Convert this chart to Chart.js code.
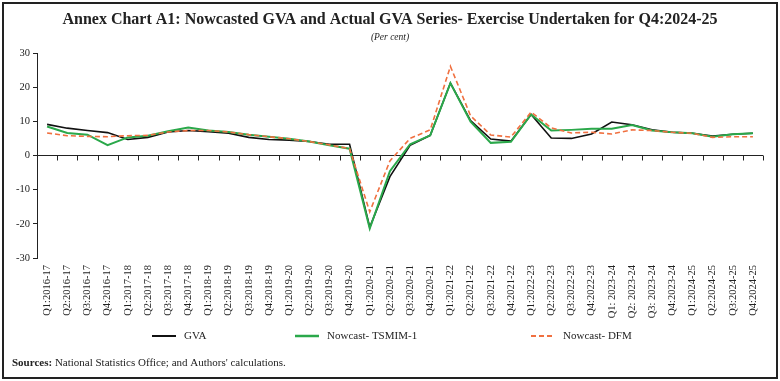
<!DOCTYPE html>
<html>
<head>
<meta charset="utf-8">
<script src="https://cdn.jsdelivr.net/npm/chart.js@4/dist/chart.umd.min.js"></script>
<style>
html,body{margin:0;padding:0;background:#fff;}
#wrap{position:relative;width:780px;height:381px;}
</style>
</head>
<body>
<div id="wrap"><canvas id="c" width="780" height="381"></canvas></div>
<script>
const categories = ["Q1:2016-17","Q2:2016-17","Q3:2016-17","Q4:2016-17","Q1:2017-18","Q2:2017-18","Q3:2017-18","Q4:2017-18","Q1:2018-19","Q2:2018-19","Q3:2018-19","Q4:2018-19","Q1:2019-20","Q2:2019-20","Q3:2019-20","Q4:2019-20","Q1:2020-21","Q2:2020-21","Q3:2020-21","Q4:2020-21","Q1:2021-22","Q2:2021-22","Q3:2021-22","Q4:2021-22","Q1:2022-23","Q2:2022-23","Q3:2022-23","Q4:2022-23","Q1: 2023-24","Q2: 2023-24","Q3: 2023-24","Q4:2023-24","Q1:2024-25","Q2:2024-25","Q3:2024-25","Q4:2024-25"];
const gva = [9.1,8.0,7.3,6.7,4.7,5.3,6.9,7.3,7.0,6.5,5.3,4.7,4.5,4.1,3.3,3.3,-21.0,-6.2,3.0,5.9,21.2,10.2,4.8,4.2,12.0,5.1,5.0,6.3,9.8,9.0,7.5,6.8,6.5,5.7,6.2,6.5];
const tsmim = [8.5,6.6,6.1,3.0,5.3,5.8,7.1,8.2,7.3,6.9,6.1,5.5,4.9,4.1,3.0,2.0,-21.4,-4.6,3.3,5.9,21.2,9.9,3.7,4.0,12.0,7.3,7.5,7.8,7.8,8.9,7.3,6.8,6.5,5.5,6.2,6.5];
const dfm = [6.6,5.8,5.6,5.5,5.8,5.9,6.9,7.3,7.3,6.9,6.1,5.5,4.9,4.1,3.1,2.0,-16.5,-1.6,5.0,7.5,26.1,11.6,6.0,5.4,12.7,8.1,6.6,6.8,6.3,7.5,7.3,6.8,6.5,5.3,5.5,5.5];
const yTicks = [-30,-20,-10,0,10,20,30];
const seriesNames = ["GVA","Nowcast- TSMIM-1","Nowcast- DFM"];
const titleText = "Annex Chart A1: Nowcasted GVA and Actual GVA Series- Exercise Undertaken for Q4:2024-25";
const subtitleText = "(Per cent)";

const SERIF = "'Liberation Serif','DejaVu Serif',serif";
const colBlack = "#111111", colGreen = "#2aa84a", colOrange = "#f07040";

const decor = {
  id: 'decor',
  beforeDraw(chart){
    const ctx = chart.ctx;
    ctx.save();
    ctx.fillStyle = '#fff';
    ctx.fillRect(0,0,chart.width,chart.height);
    ctx.strokeStyle = '#222';
    ctx.lineWidth = 2;
    ctx.strokeRect(3,3,chart.width-6,chart.height-6);
    // title
    ctx.fillStyle = '#222';
    ctx.textAlign = 'center';
    ctx.textBaseline = 'middle';
    ctx.font = "bold 16px " + SERIF;
    ctx.fillText(titleText, 390, 20);
    ctx.font = "italic 9.5px " + SERIF;
    ctx.fillText(subtitleText, 390, 37);
    // legend
    const items = [
      {x:152, color:colBlack, dash:[], w:2},
      {x:295, color:colGreen, dash:[], w:2.5},
      {x:531, color:colOrange, dash:[5,3], w:2}
    ];
    ctx.font = "11px " + SERIF;
    ctx.textAlign = 'left';
    items.forEach((it,i)=>{
      ctx.beginPath();
      ctx.strokeStyle = it.color;
      ctx.lineWidth = it.w;
      ctx.setLineDash(it.dash);
      ctx.moveTo(it.x,336); ctx.lineTo(it.x+24,336);
      ctx.stroke();
      ctx.setLineDash([]);
      ctx.fillStyle = '#222';
      ctx.fillText(seriesNames[i], it.x+32, 336);
    });
    // sources
    ctx.font = "bold 11px " + SERIF;
    ctx.fillText("Sources:", 12, 363);
    const w = ctx.measureText("Sources: ").width;
    ctx.font = "11px " + SERIF;
    ctx.fillText("National Statistics Office; and Authors' calculations.", 12 + w, 363);
    ctx.restore();
  },
  beforeDatasetsDraw(chart){
    const ctx = chart.ctx, xs = chart.scales.x, ys = chart.scales.y;
    const y0 = ys.getPixelForValue(0);
    ctx.save();
    ctx.strokeStyle = '#222';
    ctx.lineWidth = 1;
    ctx.beginPath();
    ctx.moveTo(chart.chartArea.left, y0);
    ctx.lineTo(chart.chartArea.right, y0);
    const n = categories.length;
    const step = xs.getPixelForValue(1) - xs.getPixelForValue(0);
    for(let i=0;i<n;i++){
      const bx = Math.round(xs.getPixelForValue(i) + step/2) + 0.5;
      ctx.moveTo(bx, y0);
      ctx.lineTo(bx, y0+5);
    }
    ctx.stroke();
    ctx.restore();
  }
};

new Chart(document.getElementById('c'), {
  type: 'line',
  data: {
    labels: categories,
    datasets: [
      {label: seriesNames[0], data: gva, borderColor: colBlack, borderWidth: 1.6, pointRadius: 0, tension: 0, order: 3},
      {label: seriesNames[1], data: tsmim, borderColor: colGreen, borderWidth: 2, pointRadius: 0, tension: 0, order: 2},
      {label: seriesNames[2], data: dfm, borderColor: colOrange, borderWidth: 1.6, borderDash: [5,3], pointRadius: 0, tension: 0, order: 1}
    ]
  },
  options: {
    responsive: false,
    animation: false,
    events: [],
    layout: {padding: {top: 53, right: 17, left: 0, bottom: 0}},
    plugins: {legend: {display: false}, title: {display: false}, tooltip: {enabled: false}},
    scales: {
      x: {
        offset: true,
        grid: {display: false, drawTicks: false},
        border: {display: false},
        ticks: {
          autoSkip: false, minRotation: 90, maxRotation: 90, padding: 7,
          color: '#222', font: {family: SERIF, size: 10.5}
        },
        afterFit(s){ s.height = 123; }
      },
      y: {
        min: -30, max: 30,
        afterBuildTicks(s){ s.ticks = yTicks.map(v=>({value:v})); },
        grid: {display: true, drawOnChartArea: false, drawTicks: true, tickLength: 4, color: '#222'},
        border: {display: true, color: '#222', width: 1},
        ticks: {color: '#222', padding: 3, font: {family: SERIF, size: 10.5}},
        afterFit(s){ s.width = 37; }
      }
    }
  },
  plugins: [decor]
});
</script>
</body>
</html>
